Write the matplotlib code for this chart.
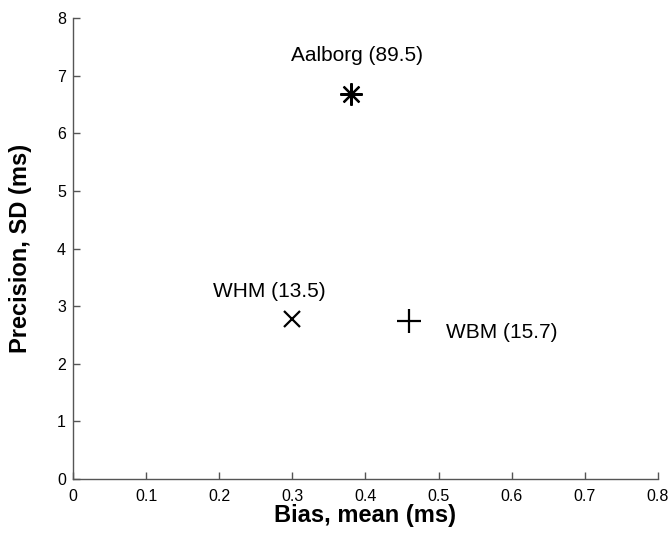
import matplotlib
matplotlib.use("Agg")
import matplotlib.pyplot as plt

plt.rcParams['font.family'] = ['Liberation Sans', 'DejaVu Sans']

# methods: bias (mean, ms), precision (SD, ms), label value
names = ['Aalborg', 'WHM', 'WBM']
bias = [0.38, 0.30, 0.46]
precision = [6.68, 2.78, 2.74]
scores = [89.5, 13.5, 15.7]
markers = [(8, 2, 0), 'x', '+']
sizes = [16, 11, 17]

# label anchor offsets (data units) and alignment
label_dx = [0.008, -0.032, 0.05]
label_dy = [0.68, 0.47, -0.2]
label_ha = ['center', 'center', 'left']

xticks = [0, 0.1, 0.2, 0.3, 0.4, 0.5, 0.6, 0.7, 0.8]
yticks = [0, 1, 2, 3, 4, 5, 6, 7, 8]

fig = plt.figure(figsize=(6.72, 5.35), dpi=100)
ax = fig.add_axes([0.1086, 0.105, 0.8705, 0.861])

for i in range(len(names)):
    ax.plot(bias[i], precision[i], linestyle='none', marker=markers[i],
            markersize=sizes[i], color='black', markeredgewidth=1.6)
    ax.text(bias[i] + label_dx[i], precision[i] + label_dy[i],
            '%s (%.1f)' % (names[i], scores[i]), fontsize=15,
            ha=label_ha[i], va='center')

ax.set_xlim(0, 0.8)
ax.set_ylim(0, 8)
ax.set_xticks(xticks)
ax.set_yticks(yticks)
ax.set_xticklabels(['0', '0.1', '0.2', '0.3', '0.4', '0.5', '0.6', '0.7', '0.8'])
ax.tick_params(direction='in', length=5, width=1, color='#555555',
               labelsize=11.5)
ax.tick_params(axis='x', pad=7)
ax.tick_params(axis='y', pad=5)
for side in ['top', 'right']:
    ax.spines[side].set_visible(False)
for side in ['left', 'bottom']:
    ax.spines[side].set_color('#555555')
    ax.spines[side].set_linewidth(1)

ax.set_xlabel('Bias, mean (ms)', fontsize=17, fontweight='bold', labelpad=0)
ax.set_ylabel('Precision, SD (ms)', fontsize=17, fontweight='bold', labelpad=18)

fig.savefig('out.png', dpi=100)
